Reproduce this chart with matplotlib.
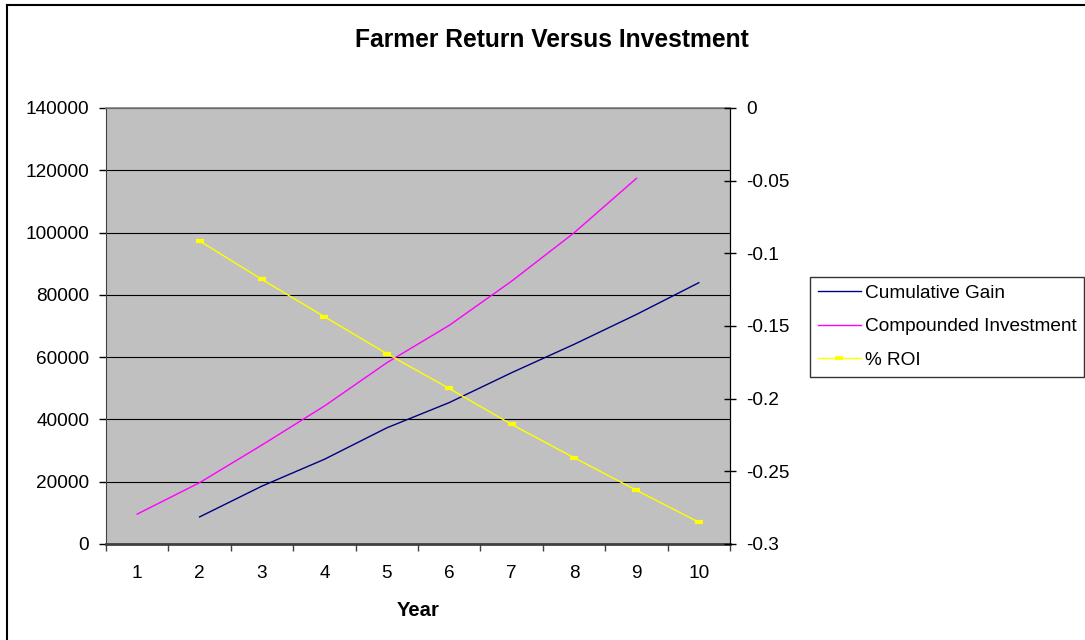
import numpy as np
import matplotlib
matplotlib.use("Agg")
import matplotlib.pyplot as plt
from matplotlib.lines import Line2D

plt.rcParams['font.family'] = ['Liberation Sans', 'DejaVu Sans']

years = [1, 2, 3, 4, 5, 6, 7, 8, 9, 10]
cum_gain = [np.nan, 8700, 18600, 27200, 37300, 45400, 55000, 64100, 73700, 83900]
comp_invest = [9600, 19700, 31800, 44300, 58200, 70200, 84400, 99900, 117400, np.nan]
roi = [np.nan, -0.0915, -0.118, -0.1436, -0.169, -0.193, -0.2177, -0.2406, -0.263, -0.285]

left_ticks = [0, 20000, 40000, 60000, 80000, 100000, 120000, 140000]
right_ticks = [-0.3, -0.25, -0.2, -0.15, -0.1, -0.05, 0]
right_labels = ['-0.3', '-0.25', '-0.2', '-0.15', '-0.1', '-0.05', '0']

W, H = 1085, 640
fig = plt.figure(figsize=(W / 100, H / 100), dpi=100)
ax = fig.add_axes([106 / W, 96 / H, 624 / W, 436 / H])
ax.set_facecolor('#C0C0C0')

ax.plot(years, cum_gain, color='#000080', lw=1.0, label='Cumulative Gain')
ax.plot(years, comp_invest, color='#FF00FF', lw=1.0, label='Compounded Investment')

ax.set_xlim(0.5, 10.5)
ax.set_ylim(0, 140000)
ax.set_yticks(left_ticks)
ax.set_yticklabels([str(t) for t in left_ticks])
ax.set_xticks(years)
ax.set_xticks(np.arange(0.5, 11, 1), minor=True)
ax.tick_params(axis='x', which='major', length=0, pad=15, labelsize=13.7)
ax.tick_params(axis='x', which='minor', length=5, width=1, direction='out', color='#404040')
ax.tick_params(axis='y', length=5, width=1, direction='out', pad=7, labelsize=13.7)
ax.yaxis.grid(True, color='black', lw=0.8)
ax.set_xlabel('Year', fontsize=14.6, fontweight='bold', labelpad=14)

ax.spines['left'].set_color('#404040')
ax.spines['bottom'].set_color('#404040')
ax.spines['bottom'].set_linewidth(2)
ax.spines['top'].set_color('#808080')
ax.spines['top'].set_linewidth(1.2)

ax2 = ax.twinx()
ax2.plot(years, roi, color='#FFFF00', lw=1.0, marker='_', markersize=6, mew=3,
         label='% ROI')
ax2.set_ylim(-0.3, 0)
ax2.set_yticks(right_ticks)
ax2.set_yticklabels(right_labels)
ax2.tick_params(axis='y', length=9, width=1, direction='inout', pad=7, labelsize=13.7)
ax2.spines['right'].set_color('black')
ax2.spines['top'].set_visible(False)
ax2.spines['left'].set_visible(False)
ax2.spines['bottom'].set_visible(False)

fig.text(552 / W, 1 - 40 / H, 'Farmer Return Versus Investment', ha='center', va='center',
         fontsize=17.7, fontweight='bold')

h1, l1 = ax.get_legend_handles_labels()
h2, l2 = ax2.get_legend_handles_labels()
leg = fig.legend(h1 + h2, l1 + l2, loc='upper left', bbox_to_anchor=(810 / W, 1 - 277 / H),
                 fontsize=13.7, frameon=True, fancybox=False, edgecolor='black',
                 handlelength=2.3, handletextpad=0.2, labelspacing=0.85, borderpad=0.4,
                 borderaxespad=0)
leg.get_frame().set_linewidth(1)

# outer chart border, only top and left edges show
fig.add_artist(Line2D([7 / W, 7 / W], [1 - 5 / H, 0], transform=fig.transFigure, color='black', lw=1.5))
fig.add_artist(Line2D([7 / W, 1], [1 - 5 / H, 1 - 5 / H], transform=fig.transFigure, color='black', lw=1.5))

fig.savefig('out.png', dpi=100)
